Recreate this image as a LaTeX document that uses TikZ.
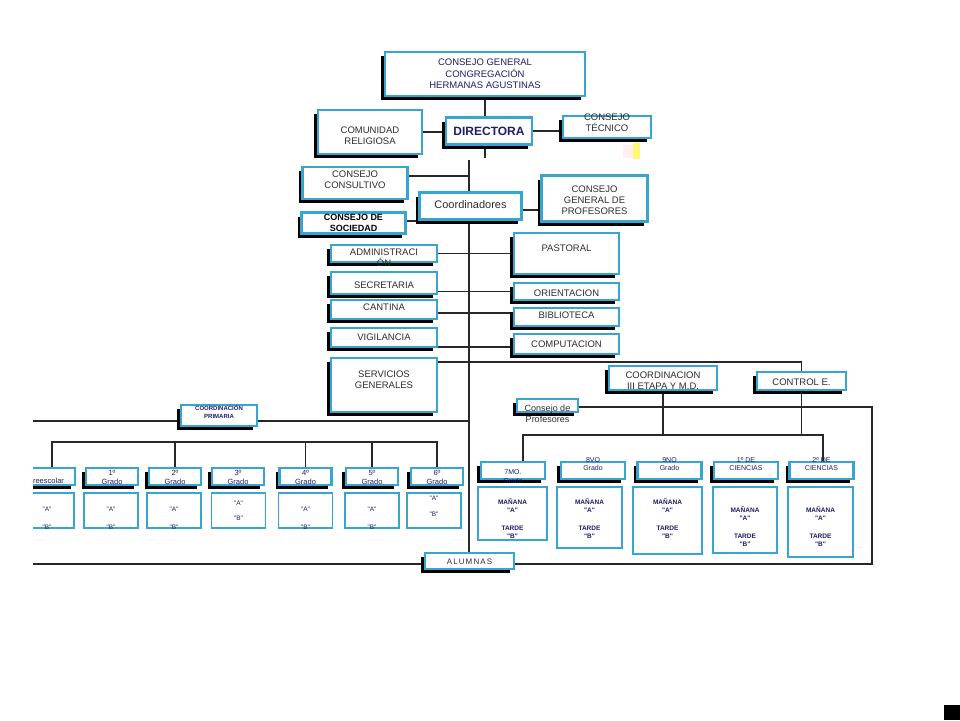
\documentclass[tikz,border=0pt]{standalone}
\usepackage{fontspec}
\newfontfamily\chartfont{Liberation Sans}
\usetikzlibrary{backgrounds,shadows}

\definecolor{boxblue}{RGB}{55,165,210}
\definecolor{navy}{RGB}{30,30,105}
\definecolor{txtgray}{RGB}{45,45,45}
\definecolor{linegray}{RGB}{40,40,40}

% text of a box, moved up by #1 (pt)
\newcommand{\tx}[2]{\raisebox{\dimexpr#1pt-3pt\relax}[0pt][0pt]{\begin{tabular}{@{}c@{}}#2\end{tabular}}}

\tikzset{
	box/.style={draw=boxblue, line width=2.2pt, fill=white, inner sep=0pt, text=txtgray,
		font=\chartfont\fontsize{9.5}{11}\selectfont,
		general shadow={fill=black, shadow xshift=-4pt, shadow yshift=-4pt}},
	cell/.style={draw=boxblue, line width=1.8pt, fill=white, inner sep=0pt, text=navy},
	sz/.style 2 args={minimum width=#1, minimum height=#2},
	grfont/.style={font=\chartfont\fontsize{7.5}{9}\selectfont, text=navy},
	abfont/.style={font=\chartfont\fontsize{6.5}{8}\selectfont},
	mtfont/.style={font=\chartfont\bfseries\fontsize{6.5}{8}\selectfont},
	ln/.style={draw=linegray, line width=1.8pt}
}

\begin{document}
\begin{tikzpicture}[x=1pt,y=-1pt]
	\useasboundingbox (0,0) rectangle (960,720);

	% direccion
	\node[box, sz={200}{44}, text=navy] (cg) at (485,74) {\tx{0}{CONSEJO GENERAL\\CONGREGACIÓN\\HERMANAS AGUSTINAS}};
	\node[box, sz={86}{27}, text=navy, font=\chartfont\bfseries\fontsize{12}{14}\selectfont] (dir) at (489,131) {\tx{-2}{DIRECTORA}};
	\node[box, sz={104}{44}] (com) at (370,132) {\tx{-4.5}{COMUNIDAD\\RELIGIOSA}};
	\node[box, sz={88}{22}] (tec) at (607,127) {\tx{4}{CONSEJO\\TÉCNICO}};
	\node[box, sz={105}{32}] (cons) at (355,183) {\tx{2.5}{CONSEJO\\CONSULTIVO}};
	\node[box, sz={102}{27}, font=\chartfont\fontsize{11}{13}\selectfont] (coord) at (470.5,206) {\tx{0}{Coordinadores}};
	\node[box, sz={104}{21}, text=black, font=\chartfont\bfseries\fontsize{9}{11}\selectfont] (soc) at (353.5,223) {\tx{0}{CONSEJO DE\\SOCIEDAD}};
	\node[box, sz={106}{46}] (cgp) at (594.5,198.5) {\tx{-2.5}{CONSEJO\\GENERAL DE\\PROFESORES}};

	% servicios
	\node[box, sz={106}{17}, font=\chartfont\fontsize{9.5}{10}\selectfont] (admin) at (384,253.5) {\tx{-4.5}{ADMINISTRACI\\ÓN}};
	\node[box, sz={106}{22}] (secr) at (384,283) {\tx{-3}{SECRETARIA}};
	\node[box, sz={106}{19}] (cant) at (384,309.5) {\tx{1.5}{CANTINA}};
	\node[box, sz={106}{19}] (vigi) at (384,337.5) {\tx{0}{VIGILANCIA}};
	\node[box, sz={106}{54}] (serv) at (384,385) {\tx{4.5}{SERVICIOS\\GENERALES}};
	\node[box, sz={105}{41}] (past) at (566.5,253.5) {\tx{4.5}{PASTORAL}};
	\node[box, sz={105}{17}] (orie) at (566.5,291.5) {\tx{-2}{ORIENTACION}};
	\node[box, sz={105}{18}] (bibl) at (566.5,317) {\tx{1}{BIBLIOTECA}};
	\node[box, sz={105}{20}] (comp) at (566.5,344) {\tx{-1}{COMPUTACION}};

	% coordinaciones
	\node[box, sz={108}{24}] (cdm) at (663,378) {\tx{-3}{COORDINACION\\III ETAPA Y M.D.}};
	\node[box, sz={89}{18}] (ctrl) at (801.5,381) {\tx{-2}{CONTROL E.}};
	\node[box, sz={61}{13}, font=\chartfont\fontsize{9}{11.5}\selectfont] (cprof) at (547.5,405.5) {\tx{-8.5}{Consejo de\\Profesores}};
	\node[box, sz={76}{21}, text=navy, font=\chartfont\bfseries\fontsize{6}{8}\selectfont] (cprim) at (219,415.5) {\tx{4.5}{COORDINACIÓN\\PRIMARIA}};
	\node[box, sz={89}{16}, font=\chartfont\addfontfeature{LetterSpace=14}\fontsize{8}{10}\selectfont] (alum) at (469.5,561) {\tx{0}{ALUMNAS}};

	% primaria
	\begin{scope}
		\clip (33,0) rectangle (960,720);
		\foreach \n/\x/\w/\s/\t in {0/46/58/-3.5/Preescolar, 1/112/52/0/{1º\\Grado}, 2/175/52/0/{2º\\Grado}, 3/238/52/0/{3º\\Grado}, 4/305.5/52/0/{4º\\Grado}, 5/372/52/0/{5º\\Grado}, 6/437/52/0/{6º\\Grado}}
			\node[box, grfont, sz={\w}{17}] (h\n) at (\x,476.5) {\tx{\s}{\t}};
		\foreach \n/\x/\s/\t in {0/47/-6.5/{"A"\\[10pt]"B"}, 1/111/-6.5/{"A"\\[10pt]"B"}, 2/174/-6.5/{"A"\\[10pt]"B"}, 3/238.5/1/{"A"\\[7pt]"B"}, 4/305.5/-6.5/{"A"\\[10pt]"B"}, 5/372/-6.5/{"A"\\[10pt]"B"}, 6/434/5.5/{"A"\\[8pt]"B"}}
			\node[cell, abfont, sz={54}{35}] (s\n) at (\x,510.5) {\tx{\s}{\t}};
	\end{scope}

	% media y diversificado
	\foreach \n/\x/\s/\t in {1/513/-5.5/{7MO.\\Grado}, 2/593/7/{8VO\\Grado}, 3/669.5/7/{9NO\\Grado}, 4/746/7/{1º DE\\CIENCIAS}, 5/821.5/7/{2º DE\\CIENCIAS}}
		\node[box, grfont, font=\chartfont\fontsize{7}{8.5}\selectfont, sz={64}{17}] (r\n) at (\x,470.5) {\tx{\s}{\t}};
	\foreach \n/\x/\y/\w/\h/\s in {1/512.5/513.5/69/53/-5, 2/589.5/517.5/65/61/-1, 3/667.5/520.5/69/67/2, 4/745/520/64/66/-6.5, 5/820.5/522/65/70/-4.5}
		\node[cell, mtfont, sz={\w}{\h}] (t\n) at (\x,\y) {\tx{\s}{MAÑANA\\"A"\\[10pt]TARDE\\"B"}};

	% small marks
	\fill[pink!25] (623,145) rectangle (633,158);
	\fill[yellow!55] (633,143) rectangle (640,159);
	\fill[black] (944,705) rectangle (960,720);

	\coordinate (ds) at (485,158);
	\coordinate (sp) at (469,160);
	\coordinate (pl) at (33,421);
	\coordinate (lb) at (52,442);
	\coordinate (rb) at (523,435);
	\coordinate (rb2) at (823,435);
	\coordinate (fr) at (872,407);
	\coordinate (fb) at (872,564);
	\coordinate (fl) at (33,564);

	\begin{scope}[on background layer]
		\fill[white] (0,0) rectangle (960,720);
		\draw[ln] (cg.south) -- (cg.south |- dir.north);
		\draw[ln] (com.east) -- (com.east -| dir.west);
		\draw[ln] (dir.east) -- (dir.east -| tec.west);
		\draw[ln] (ds |- dir.south) -- (ds);
		\draw[ln] (sp) -- (sp |- alum.north);
		\draw[ln] ([yshift=7pt]cons.east) coordinate (a) -- (a -| sp);
		\draw[ln] ([yshift=2pt]soc.east) coordinate (b) -- (b -| coord.west);
		\draw[ln] ([yshift=-4pt]coord.east) coordinate (c) -- (c -| cgp.west);
		\draw[ln] (admin.east) -- (admin.east -| past.west);
		\draw[ln] (orie.west) -- (orie.west -| secr.east);
		\draw[ln] ([yshift=-3.5pt]cant.east) coordinate (d) -- (d -| bibl.west);
		\draw[ln] ([yshift=-3pt]comp.west) coordinate (e) -- (e -| vigi.east);
		\draw[ln] ([yshift=-5pt]serv.north east) coordinate (f) -| (ctrl.north);
		\draw[ln] (cdm.south) -- (cdm.south |- rb);
		\draw[ln] (ctrl.south) -- (ctrl.south |- rb);
		\draw[ln] (rb |- r1.north) -- (rb) -- (rb2) -- (rb2 |- r5.north);
		\draw[ln] (cprof.east |- fr) -- (fr) -- (fb) -- (fl);
		\draw[ln] (pl) -- (pl -| sp);
		\draw[ln] (lb |- h0.north) -- (lb) -- (lb -| h6.north) -- (h6.north);
		\foreach \n in {h2,h4,h5}
			\draw[ln] (\n.north) -- (\n.north |- lb);
	\end{scope}
\end{tikzpicture}
\end{document}
